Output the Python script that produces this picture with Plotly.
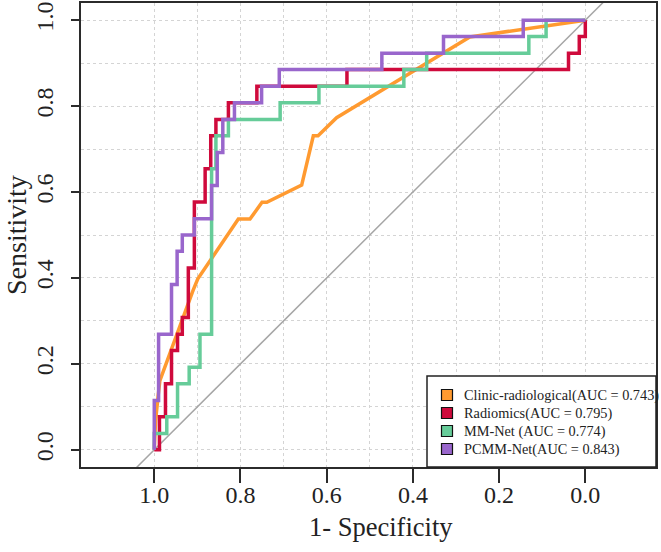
import plotly.graph_objects as go

# ROC coordinates (specificity, sensitivity)
clinic_spec = [1.0, 0.997, 0.991, 0.987, 0.910, 0.899, 0.805, 0.778, 0.750, 0.739, 0.658, 0.631, 0.620, 0.577, 0.268, 0.0]
clinic_sens = [0.0, 0.068, 0.126, 0.161, 0.371, 0.398, 0.537, 0.537, 0.576, 0.576, 0.616, 0.731, 0.731, 0.773, 0.961, 1.0]

radio_spec = [1.0, 0.988, 0.974, 0.960, 0.946, 0.935, 0.921, 0.907, 0.882, 0.869, 0.857, 0.828, 0.762, 0.553, 0.039, 0.014, 0.0, 0.0]
radio_sens = [0.0, 0.0, 0.077, 0.154, 0.231, 0.269, 0.308, 0.423, 0.577, 0.654, 0.731, 0.769, 0.808, 0.846, 0.885, 0.923, 0.962, 1.0]

mmnet_spec = [1.0, 0.971, 0.946, 0.919, 0.894, 0.867, 0.857, 0.828, 0.708, 0.618, 0.421, 0.368, 0.131, 0.091, 0.0]
mmnet_sens = [0.0, 0.038, 0.077, 0.154, 0.192, 0.269, 0.654, 0.731, 0.769, 0.808, 0.846, 0.885, 0.923, 0.962, 1.0]

pcmm_spec = [1.0, 0.990, 0.960, 0.947, 0.935, 0.907, 0.867, 0.854, 0.841, 0.814, 0.751, 0.710, 0.472, 0.329, 0.144, 0.0]
pcmm_sens = [0.0, 0.115, 0.269, 0.385, 0.462, 0.500, 0.538, 0.615, 0.692, 0.769, 0.808, 0.846, 0.885, 0.923, 0.962, 1.0]

labels = ["Clinic-radiological(AUC = 0.743)", "Radiomics(AUC = 0.795)",
          "MM-Net (AUC = 0.774)", "PCMM-Net(AUC = 0.843)"]
colors = ["#FF9A30", "#CF0A3C", "#66CC99", "#9966CC"]

tick_vals = [1.0, 0.8, 0.6, 0.4, 0.2, 0.0]
tick_text = ["1.0", "0.8", "0.6", "0.4", "0.2", "0.0"]
grid_minor = [0.9, 0.7, 0.5, 0.3, 0.1]

FONT = "Liberation Serif"

fig = go.Figure()

# chance line
fig.add_trace(go.Scatter(x=[1.3, -0.3], y=[-0.3, 1.3], mode="lines",
                         line=dict(color="#A6A6A6", width=1.5), showlegend=False,
                         hoverinfo="skip"))

fig.add_trace(go.Scatter(x=clinic_spec, y=clinic_sens, mode="lines",
                         line=dict(color=colors[0], width=3.5), name=labels[0]))
fig.add_trace(go.Scatter(x=radio_spec, y=radio_sens, mode="lines",
                         line=dict(color=colors[1], width=3.5, shape="vh"), name=labels[1]))
fig.add_trace(go.Scatter(x=mmnet_spec, y=mmnet_sens, mode="lines",
                         line=dict(color=colors[2], width=3.5, shape="vh"), name=labels[2]))
fig.add_trace(go.Scatter(x=pcmm_spec, y=pcmm_sens, mode="lines",
                         line=dict(color=colors[3], width=3.5, shape="vh"), name=labels[3]))

axis_common = dict(
    automargin=False,
    showline=True, linecolor="#2b2b2b", linewidth=1.6, mirror=True,
    ticks="outside", tickcolor="#2b2b2b", tickwidth=1.5,
    tickvals=tick_vals, ticktext=tick_text,
    showgrid=True, gridcolor="#D4D4D4", gridwidth=1, griddash="dot",
    zeroline=False,
    minor=dict(tickvals=grid_minor, showgrid=True, gridcolor="#D4D4D4", gridwidth=1,
               griddash="dot", ticks=""),
    tickfont=dict(family=FONT, size=24, color="#222"),
)

fig.update_xaxes(range=[1.17, -0.164], ticklen=14, ticklabelstandoff=-9, **axis_common)
fig.update_yaxes(range=[-0.04, 1.04], ticklen=8, tickangle=-90, ticklabelstandoff=9,
                 **axis_common)

# pixel -> paper helpers for the R-style decorations
L, R, T, B = 81, 5, 3, 85
W, H = 661 - L - R, 552 - T - B


def px(xp):
    return (xp - L) / W


def py(yp):
    return (552 - B - yp) / H


# axis titles
fig.add_annotation(xref="paper", yref="paper", x=px(381), y=py(527), text="1- Specificity",
                   showarrow=False, xanchor="center", yanchor="middle",
                   font=dict(family=FONT, size=26.5, color="#222"))
fig.add_annotation(xref="paper", yref="paper", x=px(16), y=py(235), text="Sensitivity",
                   showarrow=False, xanchor="center", yanchor="middle", textangle=-90,
                   font=dict(family=FONT, size=28, color="#222"))

# legend box
fig.add_shape(type="rect", xref="paper", yref="paper",
              x0=px(427), x1=1.0, y0=0.0, y1=py(376),
              line=dict(color="#222", width=1.5), fillcolor="white", layer="above")

row_y = [395, 413, 431, 449]
for lab, col, yy in zip(labels, colors, row_y):
    fig.add_shape(type="rect", xref="paper", yref="paper",
                  x0=px(441.5), x1=px(452.5), y0=py(yy + 5.5), y1=py(yy - 5.5),
                  line=dict(color="#111", width=1.2), fillcolor=col, layer="above")
    fig.add_annotation(xref="paper", yref="paper", x=px(462), y=py(yy),
                       text=lab, showarrow=False, xanchor="left", yanchor="middle",
                       font=dict(family=FONT, size=14.3, color="#222"))

fig.update_layout(
    width=661, height=552,
    margin=dict(l=L, r=R, t=T, b=B),
    plot_bgcolor="white", paper_bgcolor="white",
    showlegend=False,
)

fig.write_html("out.html", config={"displayModeBar": False},
               post_script="document.body.style.margin = '0';")
